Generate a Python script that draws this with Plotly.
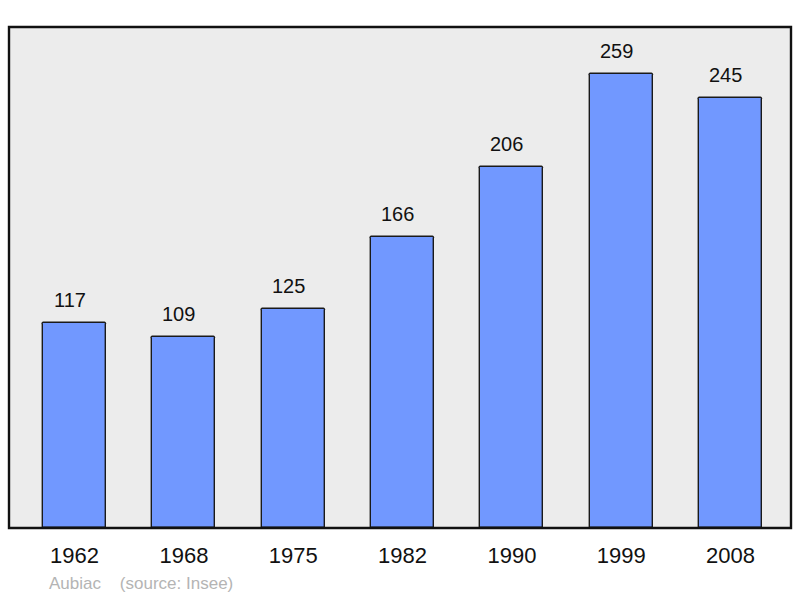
import plotly.graph_objects as go

years = ["1962", "1968", "1975", "1982", "1990", "1999", "2008"]
population = [117, 109, 125, 166, 206, 259, 245]
commune = "Aubiac"
source = "(source: Insee)"

fig = go.Figure()

fig.add_trace(go.Bar(
    x=years,
    y=population,
    width=0.576,
    marker=dict(color="#7198ff", line=dict(color="#1a1a1a", width=1.4), cornerradius=2),
    hoverinfo="x+y",
))

# value labels above each bar (x as category index: numeric-looking names get read as indices)
for i, val in enumerate(population):
    fig.add_annotation(
        x=i, y=val, text=str(val), showarrow=False,
        yanchor="middle", yshift=23, xshift=-5,
        font=dict(family="Liberation Sans, Arial", size=20, color="#111111"),
    )

# town / source note
fig.add_annotation(
    xref="paper", yref="paper", x=0.0485, y=0,
    xanchor="left", yanchor="middle", yshift=-55,
    text=commune + "\u00a0\u00a0\u00a0\u00a0" + source, showarrow=False,
    font=dict(family="Liberation Sans, Arial", size=17, color="#b4b4b4"),
)

fig.add_shape(
    type="rect", xref="paper", yref="paper", x0=0, y0=0, x1=1, y1=1,
    line=dict(color="#111111", width=2.4), layer="above",
)

fig.update_layout(
    width=800, height=598,
    margin=dict(l=9, r=9, t=27, b=70),
    paper_bgcolor="white",
    plot_bgcolor="#ececec",
    showlegend=False,
    bargap=0,
    font=dict(family="Liberation Sans, Arial", color="#111111"),
)
fig.update_xaxes(
    type="category", range=[-0.60, 6.553],
    showgrid=False, zeroline=False, ticks="",
    tickfont=dict(size=22, color="#111111"),
    ticklabelstandoff=12,
)
fig.update_yaxes(range=[0, 285.5], visible=False)

fig.write_html("out.html", config={"displayModeBar": False},
               post_script="document.body.style.margin='0';")
